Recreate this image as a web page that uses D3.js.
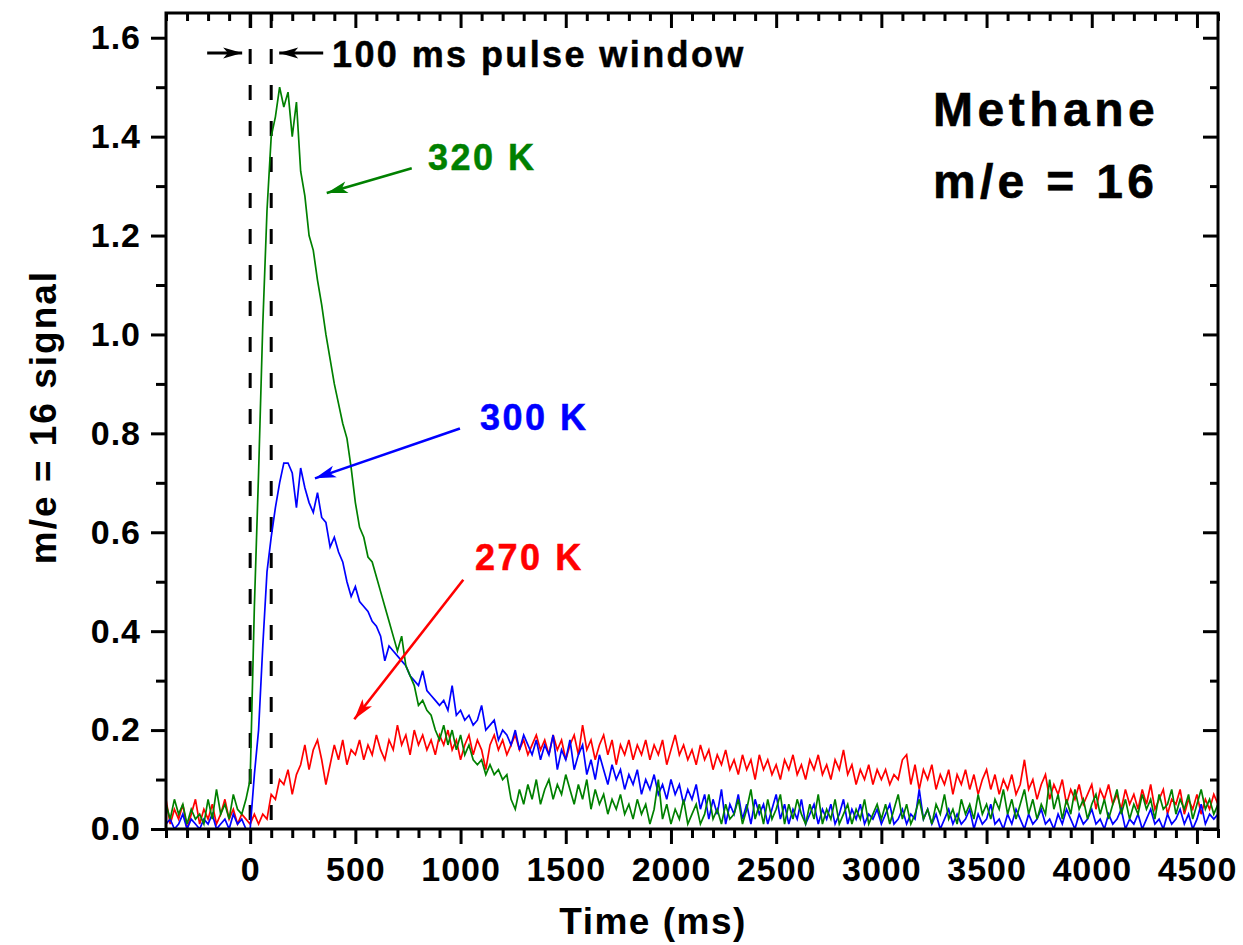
<!DOCTYPE html>
<html>
<head>
<meta charset="utf-8">
<title>Methane m/e = 16</title>
<script src="https://cdn.jsdelivr.net/npm/d3@7"></script>
<style>
body { margin: 0; background: #fff; }
text { font-family: "Liberation Sans", Arial, sans-serif; font-weight: bold; }
</style>
</head>
<body>
<script>
var w = 1243;
var h = 945;
var margin = {left: 166, right: 25, top: 13, bottom: 116};
var width = w - margin.left - margin.right;
var height = h - margin.top - margin.bottom;

// signals sampled every 20 ms starting at -400 ms (one row = 200 ms)
var t0 = -400, dt = 20;

var green320 = [
	0.05,0.02,0.06,0.03,0.05,0.01,0.04,0.02,0.03,0.01,
	0.06,0.02,0.08,0.03,0.05,0.02,0.07,0.04,0.03,0.06,
	0.10,0.45,0.72,1.02,1.25,1.40,1.44,1.50,1.46,1.49,
	1.40,1.47,1.33,1.28,1.20,1.17,1.11,1.06,1.00,0.95,
	0.90,0.86,0.82,0.79,0.73,0.66,0.61,0.59,0.55,0.54,
	0.51,0.48,0.45,0.42,0.39,0.36,0.39,0.33,0.31,0.29,
	0.25,0.26,0.24,0.23,0.20,0.18,0.21,0.17,0.20,0.16,
	0.19,0.15,0.17,0.14,0.13,0.14,0.11,0.13,0.11,0.12,
	0.10,0.11,0.06,0.04,0.08,0.05,0.09,0.06,0.10,0.05,
	0.08,0.10,0.06,0.09,0.07,0.11,0.08,0.05,0.09,0.06,
	0.10,0.04,0.08,0.05,0.07,0.03,0.06,0.04,0.07,0.03,
	0.05,0.02,0.06,0.03,0.05,0.01,0.04,0.10,0.02,0.05,
	0.01,0.04,0.02,0.06,0.01,0.03,0.05,0.01,0.03,0.07,
	0.02,0.04,0.01,0.05,0.02,0.03,0.06,0.01,0.04,0.08,
	0.02,0.05,0.01,0.06,0.02,0.04,0.07,0.01,0.05,0.02,
	0.06,0.03,0.01,0.05,0.02,0.07,0.01,0.04,0.02,0.06,
	0.01,0.03,0.05,0.01,0.04,0.02,0.06,0.01,0.03,0.05,
	0.02,0.05,0.01,0.04,0.07,0.02,0.05,0.01,0.03,0.06,
	0.02,0.04,0.01,0.05,0.03,0.07,0.02,0.04,0.01,0.06,
	0.03,0.05,0.02,0.07,0.03,0.05,0.02,0.06,0.04,0.08,
	0.03,0.06,0.02,0.05,0.08,0.03,0.06,0.02,0.05,0.03,
	0.10,0.04,0.07,0.02,0.06,0.03,0.08,0.04,0.06,0.02,
	0.05,0.07,0.03,0.06,0.02,0.05,0.08,0.03,0.06,0.02,
	0.05,0.03,0.07,0.04,0.06,0.02,0.07,0.04,0.05,0.08,
	0.03,0.06,0.04,0.07,0.02,0.05,0.08,0.04,0.06,0.03,
	0.05];

var blue300 = [
	0.01,0.02,0.00,0.01,0.03,0.00,0.02,0.01,0.00,0.02,
	0.01,0.03,0.00,0.01,0.02,0.00,0.03,0.01,0.02,0.00,
	0.00,0.11,0.20,0.37,0.52,0.59,0.65,0.70,0.74,0.74,
	0.72,0.65,0.73,0.69,0.66,0.64,0.68,0.63,0.62,0.57,
	0.59,0.56,0.54,0.50,0.47,0.49,0.46,0.45,0.44,0.42,
	0.41,0.39,0.34,0.37,0.36,0.35,0.34,0.33,0.31,0.30,
	0.29,0.32,0.28,0.27,0.26,0.25,0.26,0.24,0.29,0.23,
	0.24,0.22,0.23,0.21,0.22,0.25,0.20,0.21,0.22,0.18,
	0.20,0.19,0.17,0.20,0.16,0.19,0.17,0.15,0.18,0.14,
	0.17,0.15,0.19,0.12,0.16,0.14,0.18,0.12,0.15,0.17,
	0.11,0.14,0.10,0.15,0.12,0.09,0.13,0.10,0.12,0.08,
	0.11,0.09,0.12,0.07,0.10,0.08,0.11,0.07,0.09,0.06,
	0.10,0.07,0.09,0.05,0.08,0.06,0.09,0.04,0.07,0.02,
	0.06,0.03,0.08,0.01,0.05,0.03,0.07,0.02,0.05,0.01,
	0.06,0.03,0.05,0.01,0.04,0.07,0.02,0.05,0.01,0.04,
	0.02,0.06,0.01,0.03,0.05,0.01,0.04,0.02,0.05,0.01,
	0.03,0.06,0.01,0.04,0.02,0.05,0.01,0.03,0.02,0.04,
	0.01,0.03,0.05,0.01,0.02,0.04,0.01,0.03,0.02,0.08,
	0.02,0.04,0.01,0.03,0.00,0.02,0.04,0.01,0.03,0.01,
	0.02,0.04,0.00,0.03,0.01,0.02,0.05,0.01,0.02,0.00,
	0.03,0.01,0.04,0.02,0.00,0.03,0.01,0.02,0.04,0.01,
	0.02,0.00,0.03,0.01,0.04,0.02,0.00,0.03,0.01,0.02,
	0.04,0.01,0.02,0.00,0.03,0.01,0.02,0.04,0.00,0.02,
	0.01,0.03,0.00,0.02,0.04,0.01,0.02,0.00,0.03,0.01,
	0.02,0.04,0.01,0.03,0.00,0.02,0.05,0.01,0.03,0.02,
	0.03];

var red270 = [
	0.06,0.01,0.04,0.02,0.05,0.00,0.03,0.06,0.01,0.04,
	0.02,0.05,0.01,0.03,0.06,0.02,0.04,0.01,0.03,0.02,
	0.01,0.03,0.01,0.03,0.02,0.07,0.06,0.10,0.09,0.12,
	0.07,0.11,0.13,0.17,0.12,0.16,0.18,0.14,0.09,0.13,
	0.17,0.14,0.18,0.13,0.16,0.15,0.18,0.14,0.17,0.15,
	0.19,0.16,0.14,0.18,0.16,0.21,0.17,0.19,0.15,0.20,
	0.17,0.19,0.16,0.18,0.15,0.19,0.17,0.20,0.16,0.18,
	0.14,0.17,0.19,0.15,0.18,0.16,0.12,0.17,0.19,0.16,
	0.18,0.15,0.17,0.19,0.16,0.18,0.15,0.17,0.19,0.16,
	0.18,0.15,0.19,0.16,0.18,0.14,0.17,0.19,0.15,0.21,
	0.16,0.18,0.14,0.17,0.19,0.15,0.18,0.13,0.17,0.15,
	0.18,0.14,0.17,0.15,0.18,0.14,0.17,0.15,0.18,0.13,
	0.16,0.19,0.15,0.17,0.14,0.16,0.13,0.17,0.14,0.16,
	0.12,0.15,0.13,0.16,0.12,0.14,0.11,0.15,0.12,0.14,
	0.10,0.15,0.12,0.14,0.11,0.13,0.10,0.14,0.12,0.15,
	0.11,0.13,0.10,0.14,0.12,0.15,0.11,0.13,0.10,0.14,
	0.12,0.16,0.11,0.13,0.09,0.12,0.10,0.13,0.09,0.12,
	0.10,0.12,0.09,0.11,0.10,0.14,0.15,0.09,0.13,0.08,
	0.12,0.10,0.13,0.08,0.11,0.09,0.12,0.07,0.11,0.09,
	0.12,0.08,0.11,0.07,0.10,0.12,0.08,0.11,0.07,0.10,
	0.08,0.11,0.07,0.09,0.14,0.08,0.10,0.06,0.09,0.11,
	0.06,0.09,0.07,0.10,0.05,0.08,0.06,0.09,0.05,0.07,
	0.09,0.04,0.08,0.06,0.09,0.05,0.07,0.04,0.08,0.05,
	0.07,0.04,0.08,0.05,0.09,0.04,0.06,0.08,0.03,0.06,
	0.05,0.08,0.03,0.06,0.04,0.07,0.03,0.06,0.04,0.07,
	0.05];

var xMajor = [0, 500, 1000, 1500, 2000, 2500, 3000, 3500, 4000, 4500];
var yMajor = [0, 0.2, 0.4, 0.6, 0.8, 1.0, 1.2, 1.4, 1.6];
var pulseWindow = [0, 100];

var colors = {g: "#008000", b: "#0000ff", r: "#ff0000"};

var series = [
	{name: "270 K", color: colors.r, values: red270},
	{name: "300 K", color: colors.b, values: blue300},
	{name: "320 K", color: colors.g, values: green320}
];

// annotation positions in data units (ms, signal)
var labels = [
	{text: "320 K", t: 845, v: 1.333, color: colors.g},
	{text: "300 K", t: 1092, v: 0.807, color: colors.b},
	{text: "270 K", t: 1069, v: 0.524, color: colors.r}
];
var arrows = [
	{from: [768, 1.336], to: [364, 1.286], color: colors.g},
	{from: [997, 0.810], to: [308, 0.709], color: colors.b},
	{from: [1013, 0.504], to: [495, 0.222], color: colors.r}
];

var svg = d3.select("body").append("svg").attr("width", w).attr("height", h);
svg.append("rect").attr("width", w).attr("height", h).attr("fill", "#fff");
var g = svg.append("g").attr("transform", "translate(" + margin.left + "," + margin.top + ")");

var x = d3.scaleLinear().domain([-400, 4600]).range([0, width]);
var y = d3.scaleLinear().domain([0, 1.65]).range([height, 0]);

var xMinor = d3.range(-400, 4601, 100).filter(function(d){ return xMajor.indexOf(d) < 0; });
var yMinor = [0.1, 0.3, 0.5, 0.7, 0.9, 1.1, 1.3, 1.5];

// markers
var defs = svg.append("defs");
function marker(id, color, len, half) {
	defs.append("marker").attr("id", id)
		.attr("markerUnits", "userSpaceOnUse")
		.attr("viewBox", (-len - 1) + " " + (-half - 1) + " " + (len + 2) + " " + (2 * half + 2))
		.attr("markerWidth", len + 2).attr("markerHeight", 2 * half + 2)
		.attr("refX", 0).attr("refY", 0)
		.attr("orient", "auto")
		.append("path")
		.attr("d", "M0,0 L" + (-len) + "," + (-half) + " L" + (-len * 0.75) + ",0 L" + (-len) + "," + half + " Z")
		.attr("fill", color);
}
marker("head-g", colors.g, 21, 6);
marker("head-b", colors.b, 21, 6);
marker("head-r", colors.r, 21, 6);
marker("head-k", "#000", 19, 5.5);

defs.append("clipPath").attr("id", "plot-clip")
	.append("rect").attr("width", width).attr("height", height);

// dashed pulse window lines
g.selectAll(".pulse").data(pulseWindow).enter().append("line")
	.attr("class", "pulse")
	.attr("x1", function(d){ return x(d); }).attr("x2", function(d){ return x(d); })
	.attr("y1", 0).attr("y2", height)
	.attr("stroke", "#000").attr("stroke-width", 3)
	.attr("stroke-dasharray", "15,21");

// traces
var line = d3.line()
	.x(function(d, i){ return x(t0 + i * dt); })
	.y(function(d){ return y(d); });

g.append("g").attr("clip-path", "url(#plot-clip)")
	.selectAll("path").data(series).enter().append("path")
	.attr("d", function(d){ return line(d.values); })
	.attr("fill", "none")
	.attr("stroke", function(d){ return d.color; })
	.attr("stroke-width", 1.7)
	.attr("stroke-linejoin", "miter");

// axes
function styleAxis(sel) {
	sel.select(".domain").remove();
	sel.selectAll(".tick line").attr("stroke", "#000").attr("stroke-width", 3);
	sel.selectAll(".tick text").attr("fill", "#000").attr("font-size", 34).attr("letter-spacing", 1);
}

g.append("g").attr("transform", "translate(0," + height + ")")
	.call(d3.axisBottom(x).tickValues(xMajor).tickSize(15).tickPadding(13).tickFormat(d3.format("d")))
	.call(styleAxis);
g.append("g").attr("transform", "translate(0," + height + ")")
	.call(d3.axisBottom(x).tickValues(xMinor).tickSize(9).tickFormat(""))
	.call(styleAxis);
g.append("g")
	.call(d3.axisBottom(x).tickValues(xMajor).tickSize(15).tickFormat(""))
	.call(styleAxis);
g.append("g")
	.call(d3.axisBottom(x).tickValues(xMinor).tickSize(8).tickFormat(""))
	.call(styleAxis);

g.append("g")
	.call(d3.axisLeft(y).tickValues(yMajor).tickSize(15).tickPadding(10).tickFormat(d3.format(".1f")))
	.call(styleAxis);
g.append("g")
	.call(d3.axisLeft(y).tickValues(yMinor).tickSize(10).tickFormat(""))
	.call(styleAxis);
g.append("g").attr("transform", "translate(" + width + ",0)")
	.call(d3.axisLeft(y).tickValues(yMajor).tickSize(15).tickFormat(""))
	.call(styleAxis);
g.append("g").attr("transform", "translate(" + width + ",0)")
	.call(d3.axisLeft(y).tickValues(yMinor).tickSize(8).tickFormat(""))
	.call(styleAxis);

g.append("rect").attr("width", width).attr("height", height)
	.attr("fill", "none").attr("stroke", "#000").attr("stroke-width", 3);

// axis titles
svg.append("text")
	.attr("x", 653).attr("y", 934)
	.attr("text-anchor", "middle")
	.attr("font-size", 37).attr("letter-spacing", 1.5)
	.text("Time (ms)");
svg.append("text")
	.attr("transform", "translate(56,417) rotate(-90)")
	.attr("text-anchor", "middle")
	.attr("font-size", 37).attr("letter-spacing", 2)
	.text("m/e = 16 signal");

// pulse window annotation
var ay = 40;
g.append("line")
	.attr("x1", x(0) - 43).attr("x2", x(0) - 8)
	.attr("y1", ay).attr("y2", ay)
	.attr("stroke", "#000").attr("stroke-width", 3)
	.attr("marker-end", "url(#head-k)");
g.append("line")
	.attr("x1", x(100) + 52).attr("x2", x(100) + 8)
	.attr("y1", ay).attr("y2", ay)
	.attr("stroke", "#000").attr("stroke-width", 3)
	.attr("marker-end", "url(#head-k)");
g.append("text")
	.attr("x", 332 - margin.left).attr("y", 67 - margin.top)
	.attr("font-size", 36).attr("letter-spacing", 2.4)
	.attr("stroke", "#000").attr("stroke-width", 0.5)
	.text("100 ms pulse window");

// sample label
g.append("text")
	.attr("x", 933 - margin.left).attr("y", 126 - margin.top)
	.attr("font-size", 48).attr("letter-spacing", 4.5)
	.attr("stroke", "#000").attr("stroke-width", 0.6)
	.text("Methane");
g.append("text")
	.attr("x", 933 - margin.left).attr("y", 198 - margin.top)
	.attr("font-size", 48).attr("letter-spacing", 4.3)
	.attr("stroke", "#000").attr("stroke-width", 0.6)
	.text("m/e = 16");

// temperature labels and arrows
g.selectAll(".temp").data(labels).enter().append("text")
	.attr("class", "temp")
	.attr("x", function(d){ return x(d.t); })
	.attr("y", function(d){ return y(d.v); })
	.attr("font-size", 36).attr("letter-spacing", 2.5)
	.attr("fill", function(d){ return d.color; })
	.attr("stroke", function(d){ return d.color; }).attr("stroke-width", 0.5)
	.text(function(d){ return d.text; });

g.selectAll(".arrow").data(arrows).enter().append("line")
	.attr("class", "arrow")
	.attr("x1", function(d){ return x(d.from[0]); })
	.attr("y1", function(d){ return y(d.from[1]); })
	.attr("x2", function(d){ return x(d.to[0]); })
	.attr("y2", function(d){ return y(d.to[1]); })
	.attr("stroke", function(d){ return d.color; })
	.attr("stroke-width", 2.6)
	.attr("marker-end", function(d){
		return d.color === colors.g ? "url(#head-g)" : d.color === colors.b ? "url(#head-b)" : "url(#head-r)";
	});
</script>
</body>
</html>
